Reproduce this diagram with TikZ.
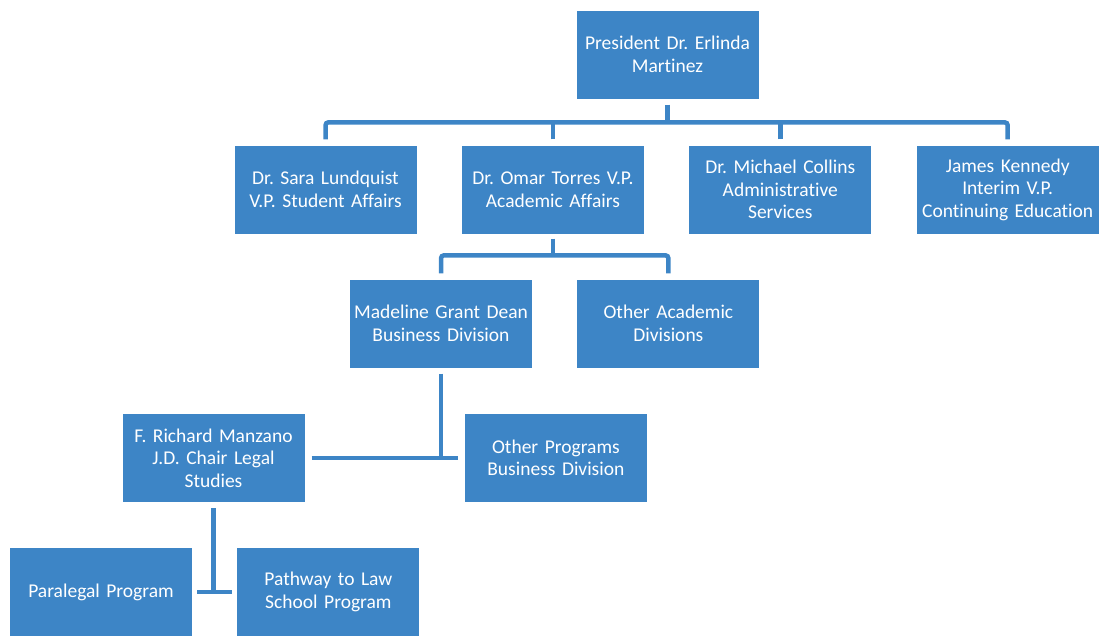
\documentclass[tikz,border=0pt]{standalone}
\usepackage{fontspec}
\setmainfont{Carlito}[Ligatures=NoCommon]
\usetikzlibrary{positioning}
\definecolor{orgblue}{RGB}{61,133,198}
\frenchspacing

\begin{document}
\begin{tikzpicture}[x=1pt, y=-1pt, node distance=45pt,
    unit/.style={rectangle, fill=orgblue, text=white, text width=180pt, inner sep=1pt,
        minimum height=88pt, align=center, font=\fontsize{19.5}{22.5}\selectfont},
    link/.style={draw=orgblue, line width=4.5pt, rounded corners=3pt}]
    \useasboundingbox (0,0) rectangle (1100,635);

    % Main components
    \node[unit] (president) at (667.5,54.5) {President Dr. Erlinda\\Martinez};
    \node[unit] (lundquist) at (325.5,189.5) {Dr. Sara Lundquist\\V.P. Student Affairs};
    \node[unit, right=of lundquist] (torres) {Dr. Omar Torres V.P.\\Academic Affairs};
    \node[unit, right=of torres] (collins) {Dr. Michael Collins\\Administrative\\Services};
    \node[unit, right=of collins] (kennedy) {James Kennedy\\Interim V.P.\\Continuing Education};

    % Divisions
    \node[unit] (grant) at (441,323.5) {Madeline Grant Dean\\Business Division};
    \node[unit, right=of grant] (otherdiv) {Other Academic\\Divisions};

    % Programs
    \node[unit] (manzano) at (213.5,458) {F. Richard Manzano\\J.D. Chair Legal\\Studies};
    \node[unit, right=160pt of manzano] (otherprog) {Other Programs\\Business Division};
    \node[unit] (paralegal) at (101,592) {Paralegal Program};
    \node[unit, right=of paralegal] (pathway) {Pathway to Law\\School Program};

    % Reporting lines
    \draw[link] ([yshift=-6pt]president.south) -- ([yshift=-23pt]president.south);
    \draw[link] ([yshift=6pt]lundquist.north) |- ([yshift=23pt]kennedy.north) -- ([yshift=6pt]kennedy.north);
    \foreach \n in {torres, collins}
        \draw[link] ([yshift=6pt]\n.north) -- ([yshift=23pt]\n.north);

    \draw[link] ([yshift=-5pt]torres.south) -- ([yshift=-22pt]torres.south);
    \draw[link] ([yshift=6pt]grant.north) |- ([yshift=24pt]otherdiv.north) -- ([yshift=6pt]otherdiv.north);

    \draw[link] ([yshift=-6pt]grant.south) -- (grant.south |- manzano.east);
    \draw[link] ([xshift=7pt]manzano.east) -- ([xshift=-7pt]otherprog.west);

    \draw[link] ([yshift=-6pt]manzano.south) -- (manzano.south |- paralegal.east);
    \draw[link] ([xshift=5pt]paralegal.east) -- ([xshift=-5pt]pathway.west);
\end{tikzpicture}
\end{document}
